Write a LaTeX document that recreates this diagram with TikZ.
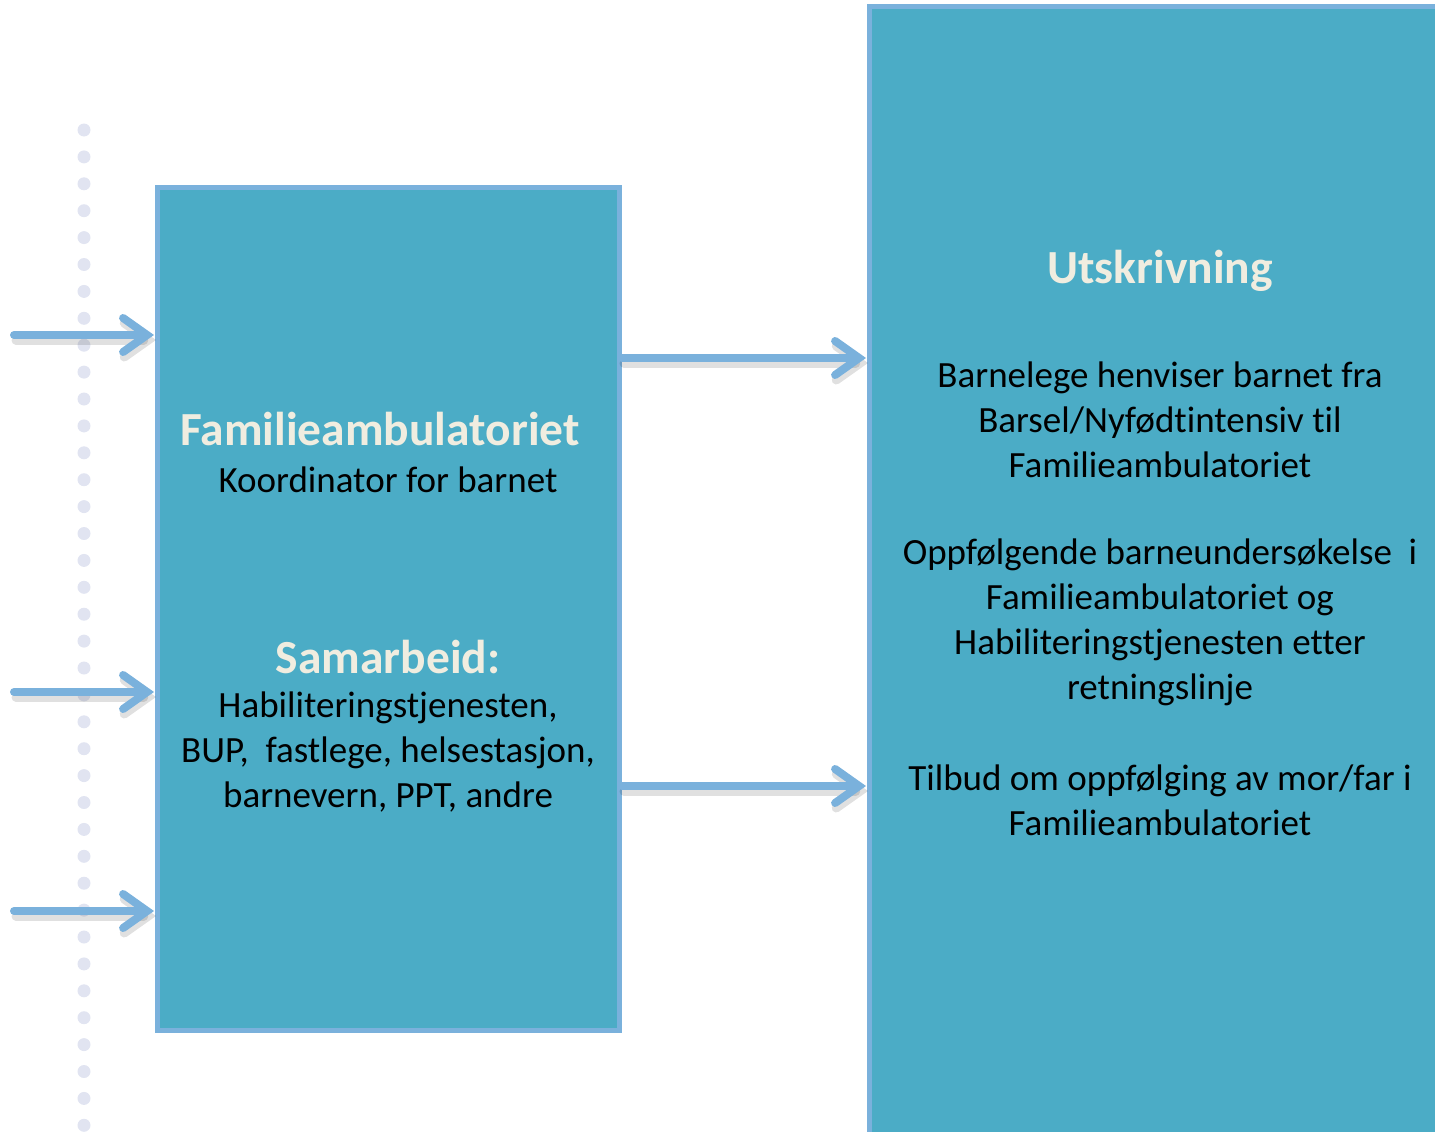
\documentclass[tikz,border=0pt]{standalone}
\usepackage{fontspec}
\setmainfont[Ligatures=NoCommon]{Carlito}
\usetikzlibrary{arrows.meta}
\definecolor{boxfill}{HTML}{4BACC6}
\definecolor{boxline}{HTML}{7AB1DC}
\definecolor{headtext}{HTML}{F0EDE0}
\definecolor{dotcol}{HTML}{E1E4F1}
\begin{document}
\begin{tikzpicture}[
    x=1pt, y=-1pt,
    panel/.style={draw=boxline, fill=boxfill, line width=5pt},
    headline/.style={font=\fontsize{47.5}{56}\selectfont\bfseries, text=headtext},
    bodytext/.style={font=\fontsize{37}{45}\selectfont, align=center, text=black},
    flow/.style={draw=boxline, line width=8pt, line cap=round,
      -{Straight Barb[length=24pt, width=34pt, line cap=round]}},
    flowshadow/.style={draw=black, opacity=0.12, line width=9pt, line cap=round,
      -{Straight Barb[length=24pt, width=34pt, line cap=round]}}
  ]
    \useasboundingbox (0,0) rectangle (1435,1132);

    % dotted time line
    \foreach \i in {0,...,37}
      \fill[dotcol] (84,130+\i*26.9) circle (6.5);

    % boxes
    \draw[panel] (157,187) rectangle (619,1030);
    \draw[panel] (869,7) rectangle (1460,1160);
    \coordinate (left) at (154,0);
    \coordinate (right) at (866,0);

    % text left
    \node[headline] (fam) at (380,429) {Familieambulatoriet};
    \node[bodytext] (koord) at (388,480) {Koordinator for barnet};
    \node[headline] (sam) at (388,657) {Samarbeid:};
    \node[bodytext] (partner) at (388,752) {Habiliteringstjenesten,\\BUP,\ \ fastlege, helsestasjon,\\barnevern, PPT, andre};

    % text right
    \node[headline] (utskr) at (1160,271) {Utskrivning};
    \node[bodytext] (henv) at (1160,420) {Barnelege henviser barnet fra\\Barsel/Nyfødtintensiv til\\Familieambulatoriet};
    \node[bodytext] (oppf) at (1160,622) {Oppfølgende barneundersøkelse\ \ i\\Familieambulatoriet og\\Habiliteringstjenesten etter\\retningslinje};
    \node[bodytext] (tilb) at (1160,800) {Tilbud om oppfølging av mor/far i\\Familieambulatoriet};

    % incoming arrows
    \foreach \y/\n in {335/a, 692/b, 911/c} {
      \coordinate (in\n) at (14,\y);
      \draw[flowshadow] ([shift={(2,5)}]in\n) -- ([shift={(2,5)}]left |- in\n);
      \draw[flow] (in\n) -- (left |- in\n);
    }

    % outgoing arrows
    \foreach \y/\n in {358/a, 786/b} {
      \coordinate (out\n) at (622,\y);
      \draw[flowshadow] ([shift={(2,5)}]out\n) -- ([shift={(2,5)}]right |- out\n);
      \draw[flow] (out\n) -- (right |- out\n);
    }
\end{tikzpicture}
\end{document}
